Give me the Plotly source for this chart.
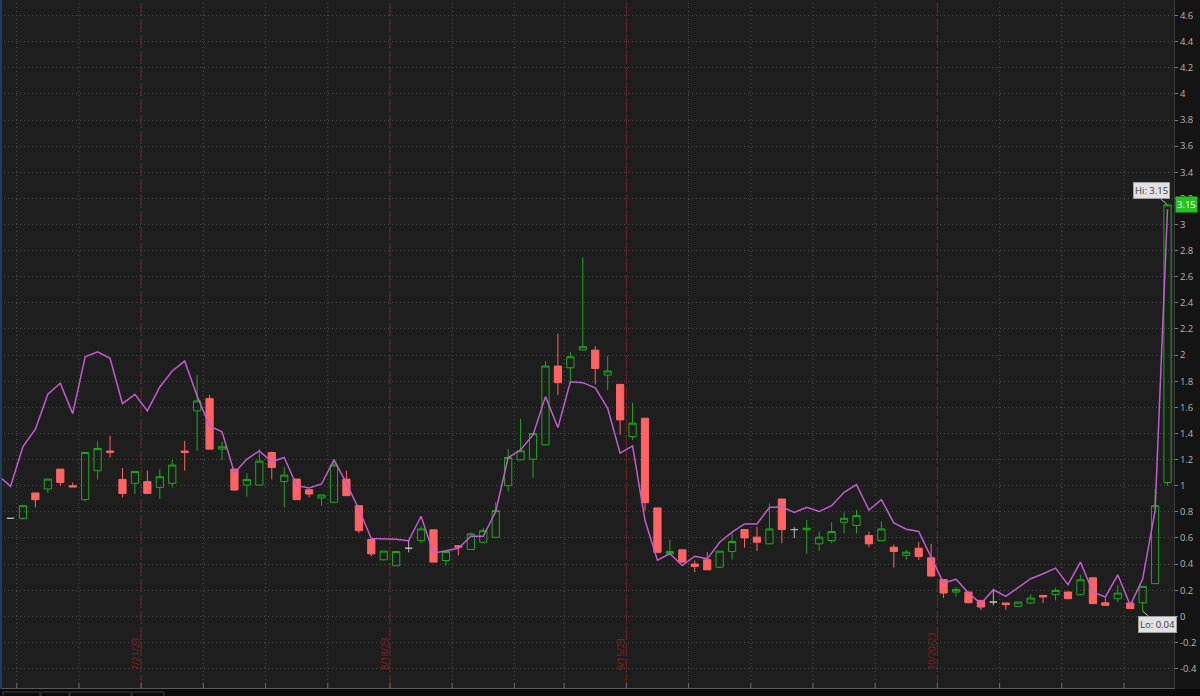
import plotly.graph_objects as go
import pandas as pd
from datetime import datetime

# ---- categories: trading days (first one only carries the indicator line) ----
dates = [d.strftime("%-m/%-d/%y")
         for d in pd.bdate_range("2023-07-06", "2023-11-16")
         if d != pd.Timestamp("2023-09-04")]
expiry_labels = ["7/21/23", "8/18/23", "9/15/23", "10/20/23"]

# ---- OHLC values (first entry = 7/6/23, off the left edge) ----
open_ = [None,
         .75, .75, .944, .975, 1.127, 1.0, .893, 1.115, 1.265, 1.048,
         1.018, 1.031, .987, 1.018, 1.265, 1.573, 1.667, 1.28, 1.127, 1.005,
         1.005, 1.254, 1.031, 1.051, .969, .906, .873, 1.05, .847, .588,
         .433, .387, .521, .58, .662, .427, .54, .511, .567, .605,
         1.0, 1.198, 1.203, 1.313, 1.916, 1.903, 2.04, 2.038, 1.847, 1.776,
         1.376, 1.517, .83, .478, .509, .4, .433, .376, .496, .664,
         .606, .555, .898, .664, .662, .555, .58, .72, .695, .618,
         .58, .529, .466, .521, .448, .282, .186, .186, .122, .109,
         .102, .076, .102, .16, .168, .186, .165, .295, .104, .135,
         .102, .104, .25, 1.025]
high = [None,
        .75, .85, .945, 1.051, 1.127, 1.025, 1.254, 1.344, 1.382, 1.135,
        1.109, 1.115, 1.127, 1.196, 1.344, 1.847, 1.695, 1.336, 1.127, 1.094,
        1.28, 1.262, 1.145, 1.051, .969, .93, 1.204, 1.115, .85, .59,
        .5, .496, .58, .692, .662, .5, .545, .644, .677, .873,
        1.28, 1.51, 1.4, 1.954, 2.163, 2.023, 2.748, 2.069, 1.992, 1.776,
        1.634, 1.52, .83, .585, .51, .427, .491, .5, .649, .664,
        .687, .865, .9, .682, .738, .649, .72, .796, .814, .649,
        .725, .55, .509, .567, .555, .285, .224, .186, .125, .211,
        .102, .109, .168, .162, .219, .19, .318, .295, .143, .237,
        .102, .229, .975, 3.15]
low = [None,
       .75, .74, .834, .944, 1.0, .99, .88, 1.048, 1.216, .911,
       .936, .941, .898, .987, 1.115, 1.267, 1.28, 1.196, .96, .916,
       1.0, 1.048, .834, .893, .911, .847, .87, .92, .636, .46,
       .427, .387, .49, .56, .415, .389, .466, .51, .56, .6,
       .956, 1.198, 1.058, 1.31, 1.695, 1.796, 2.038, 1.776, 1.733, 1.389,
       1.349, .809, .49, .475, .41, .338, .356, .37, .435, .524,
       .499, .555, .56, .6, .478, .499, .56, .636, .636, .529,
       .58, .372, .433, .433, .308, .14, .153, .1, .046, .084,
       .051, .076, .092, .102, .122, .13, .16, .097, .08, .109,
       .055, .04, .25, 1.0]
close = [None,
         .75, .847, .893, 1.051, 1.025, .99, 1.254, 1.285, 1.255, .941,
         1.109, .941, 1.069, 1.158, 1.255, 1.649, 1.28, 1.298, .967, 1.048,
         1.188, 1.14, 1.081, .893, .936, .929, 1.158, .924, .656, .478,
         .499, .496, .521, .669, .415, .496, .53, .631, .656, .809,
         1.216, 1.267, 1.399, 1.916, 1.789, 1.987, 2.064, 1.898, 1.878, 1.504,
         1.479, .87, .49, .496, .415, .382, .356, .499, .573, .6,
         .567, .669, .664, .664, .674, .606, .649, .75, .771, .555,
         .669, .496, .491, .458, .308, .178, .206, .104, .071, .109,
         .089, .109, .14, .148, .198, .135, .28, .097, .084, .178,
         .059, .229, .847, 3.15]
# ---- purple study line ----
study = [1.08,
         .995, 1.30, 1.433, 1.70, 1.784, 1.552, 1.987, 2.025, 1.975, 1.628,
         1.70, 1.573, 1.756, 1.878, 1.954, 1.687, 1.458, 1.412, 1.097, 1.204,
         1.267, 1.183, 1.216, 1.0, .982, 1.013, 1.198, 1.02, .82, .595,
         .595, .59, .578, .766, .483, .504, .521, .613, .613, .802,
         1.216, 1.275, 1.389, 1.682, 1.445, 1.796, 1.789, 1.75, 1.593, 1.249,
         1.305, .733, .43, .48, .389, .46, .44, .567, .644, .707,
         .707, .834, .839, .796, .834, .802, .847, .949, 1.008, .814,
         .893, .715, .667, .65, .45, .255, .284, .178, .097, .203,
         .153, .219, .288, .326, .369, .242, .415, .186, .148, .318,
         .084, .285, .809, 3.117]

y_ticks = ["-0.4", "-0.2", "0", "0.2", "0.4", "0.6", "0.8", "1", "1.2", "1.4",
           "1.6", "1.8", "2", "2.2", "2.4", "2.6", "2.8", "3", "3.2", "3.4",
           "3.6", "3.8", "4", "4.2", "4.4", "4.6"]

GREEN = "#1ea81e"
RED = "#ff6363"
GRAY = "#b4b4b4"
BG = "#1e1e1e"

is_doji = [o is not None and o == c for o, c in zip(open_, close)]


def pick(vals, keep):
    return [v if k else None for v, k in zip(vals, keep)]


main_keep = [not d for d in is_doji]

fig = go.Figure()
fig.add_trace(go.Candlestick(
    x=dates,
    open=pick(open_, main_keep), high=pick(high, main_keep),
    low=pick(low, main_keep), close=pick(close, main_keep),
    increasing=dict(line=dict(color=GREEN, width=1), fillcolor="rgba(0,0,0,0)"),
    decreasing=dict(line=dict(color=RED, width=1), fillcolor=RED),
    whiskerwidth=0, hoverinfo="skip"))
fig.add_trace(go.Candlestick(
    x=dates,
    open=pick(open_, is_doji), high=pick(high, is_doji),
    low=pick(low, is_doji), close=pick(close, is_doji),
    increasing=dict(line=dict(color=GRAY, width=1), fillcolor=GRAY),
    decreasing=dict(line=dict(color=GRAY, width=1), fillcolor=GRAY),
    whiskerwidth=0, hoverinfo="skip"))
fig.add_trace(go.Scatter(
    x=dates, y=study, mode="lines",
    line=dict(color="#c25ccf", width=1.5), hoverinfo="skip"))

shapes = []
# weekly grid lines + bottom ticks
wd = [datetime.strptime(d, "%m/%d/%y").weekday() for d in dates]
for i in range(1, len(dates)):
    if wd[i] < wd[i - 1]:
        xb = i - 0.5
        shapes.append(dict(type="line", xref="x", yref="paper", x0=xb, x1=xb,
                           y0=0, y1=1, layer="below",
                           line=dict(color="#505050", width=1, dash="1px,3px")))
        shapes.append(dict(type="line", xref="x", yref="paper", x0=xb, x1=xb,
                           y0=0, y1=5 / 688, line=dict(color="#6a6a6a", width=1)))

annotations = []
for lab in expiry_labels:
    xb = dates.index(lab) + 0.5
    shapes.append(dict(type="line", xref="x", yref="paper", x0=xb, x1=xb,
                       y0=0, y1=1, layer="below",
                       line=dict(color="#801a1a", width=1, dash="12px,4px")))
    annotations.append(dict(x=xb, xref="x", xshift=-6, y=16 / 688, yref="paper",
                            yanchor="bottom", xanchor="center", text=lab,
                            textangle=-90, showarrow=False,
                            font=dict(family="Open Sans", size=9, color="#8e2020")))

# left border and bottom status strip
shapes.append(dict(type="line", xref="paper", yref="paper", x0=0.0008, x1=0.0008,
                   y0=-0.02, y1=1, line=dict(color="#21405e", width=2)))
shapes.append(dict(type="rect", xref="paper", yref="paper", x0=0, x1=1.03,
                   y0=-8 / 688, y1=-1 / 688, fillcolor="#0b0b0b",
                   line=dict(width=0)))
for xa, xb2 in [(3, 40), (41, 69), (70, 131), (132, 164)]:
    shapes.append(dict(type="rect", xref="paper", yref="paper",
                       x0=xa / 1174, x1=xb2 / 1174, y0=-12 / 688, y1=-4 / 688,
                       line=dict(color="#3c3c3c", width=1), fillcolor="#0b0b0b"))

hi_val = max(h for h in high if h is not None)
lo_val = min(l for l in low if l is not None)
hi_i = high.index(hi_val)
lo_i = low.index(lo_val)
annotations.append(dict(x=dates[hi_i], y=hi_val, xref="x", yref="y",
                        text=f"Hi: {hi_val:.2f}", showarrow=True, arrowhead=0,
                        arrowwidth=1, arrowcolor="#bdbdbd", ax=-16, ay=-14,
                        bgcolor="#e2e2e2", bordercolor="#a0a0a0", borderwidth=1,
                        borderpad=1,
                        font=dict(family="Open Sans", size=9.5, color="#3a3a3a")))
annotations.append(dict(x=dates[lo_i], y=lo_val, xref="x", yref="y",
                        text=f"Lo: {lo_val:.2f}", showarrow=True, arrowhead=0,
                        arrowwidth=1, arrowcolor="#bdbdbd", ax=15, ay=13,
                        bgcolor="#e2e2e2", bordercolor="#a0a0a0", borderwidth=1,
                        borderpad=1,
                        font=dict(family="Open Sans", size=9.5, color="#3a3a3a")))
annotations.append(dict(x=1, xref="paper", xanchor="left", xshift=1,
                        y=close[-1], yref="y", text=f"{close[-1]:.2f}",
                        showarrow=False, bgcolor="#22c322", borderpad=1,
                        font=dict(family="Open Sans", size=9.5, color="#ffffff")))

fig.update_layout(
    width=1200, height=696,
    margin=dict(l=0, r=26, t=0, b=8),
    paper_bgcolor="#141414", plot_bgcolor=BG,
    showlegend=False, boxgap=0.42, boxgroupgap=0,
    shapes=shapes, annotations=annotations,
    xaxis=dict(type="category", range=[0.155, 94.52], showgrid=False,
               showticklabels=False, zeroline=False, ticks="",
               rangeslider=dict(visible=False), showline=True,
               linecolor="#5a5a5a", linewidth=1),
    yaxis=dict(side="right", range=[-0.549, 4.719],
               tickvals=[float(t) for t in y_ticks], ticktext=y_ticks,
               showgrid=True, gridcolor="#4a4a4a", griddash="1px,3px", gridwidth=1,
               zeroline=False, ticks="outside", ticklen=3, tickcolor="#808080",
               tickfont=dict(family="Open Sans", size=9.5, color="#b4b4b4"),
               showline=True, linecolor="#3a3a3a", linewidth=1),
)

fig.write_html(
    "out.html",
    config={"displayModeBar": False},
    post_script="document.body.style.margin='0';document.body.style.overflow='hidden';"
                "document.body.style.background='#141414';")
